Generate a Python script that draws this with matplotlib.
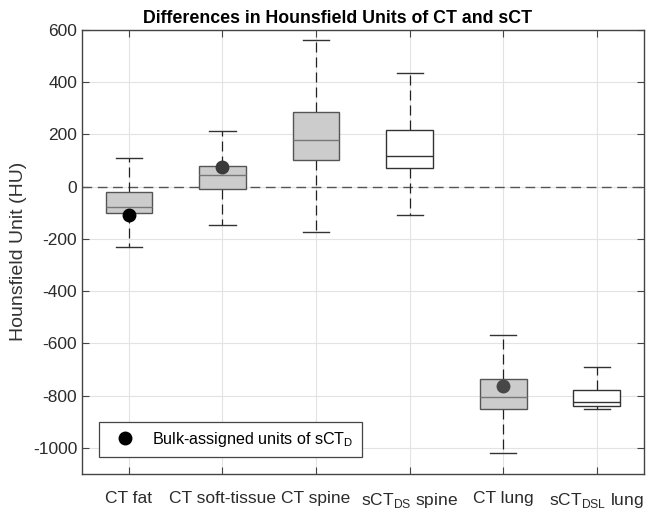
import numpy as np
import matplotlib
matplotlib.use("Agg")
from matplotlib import pyplot as plt

plt.rcParams['font.family'] = ['Liberation Sans', 'DejaVu Sans']
plt.rcParams['axes.unicode_minus'] = False
plt.rcParams['mathtext.fontset'] = 'custom'
plt.rcParams['mathtext.rm'] = 'Liberation Sans'

# categories and box statistics (HU)
labels = ['CT fat', 'CT soft-tissue', 'CT spine', r'sCT$_\mathrm{DS}$ spine',
          'CT lung', r'sCT$_\mathrm{DSL}$ lung']
whislo = [-230, -146, -174, -110, -1019, -850]
q1 = [-102, -10, 102, 70, -850, -841]
med = [-77, 46, 178, 116, -806, -826]
q3 = [-19, 79, 287, 216, -737, -780]
whishi = [109, 213, 562, 433, -568, -691]
filled = [True, True, True, False, True, False]

# bulk-assigned units of sCT_D
bulk_pos = [1, 2, 5]
bulk_val = [-108, 73, -765]
bulk_col = ['#000000', '#3a3a3a', '#474747']

stats = []
for i in range(len(labels)):
    stats.append(dict(whislo=whislo[i], q1=q1[i], med=med[i], q3=q3[i],
                      whishi=whishi[i], fliers=[]))

fig, ax = plt.subplots(figsize=(6.52, 5.14), dpi=100)
fig.subplots_adjust(left=0.126, right=0.987, top=0.942, bottom=0.078)

ax.axhline(0, color='#555555', lw=1.0, ls=(0, (7, 4)), zorder=1)

bp = ax.bxp(stats, positions=np.arange(1, 7), widths=0.5, capwidths=0.28,
            patch_artist=True, showfliers=False)
for i, box in enumerate(bp['boxes']):
    if filled[i]:
        box.set_facecolor('#cccccc')
        box.set_edgecolor('#555555')
        bp['medians'][i].set_color('#777777')
    else:
        box.set_facecolor('white')
        box.set_edgecolor('#333333')
        bp['medians'][i].set_color('#333333')
    box.set_linewidth(1.0)
    box.set_zorder(3)
    bp['medians'][i].set_linewidth(1.0)
    bp['medians'][i].set_zorder(4)
for w in bp['whiskers']:
    w.set_color('#222222')
    w.set_linestyle((0, (8, 4)))
    w.set_linewidth(0.9)
    w.set_zorder(2)
for c in bp['caps']:
    c.set_color('#333333')
    c.set_linewidth(1.0)

for p, v, c in zip(bulk_pos, bulk_val, bulk_col):
    ax.plot(p, v, 'o', color=c, ms=9, zorder=5)
ax.plot([], [], 'o', color='black', ms=9, label=r'Bulk-assigned units of sCT$_\mathrm{D}$')

ax.set_xlim(0.5, 6.5)
ax.set_ylim(-1100, 600)
ax.set_yticks(np.arange(-1000, 601, 200))
ax.set_xticks(np.arange(1, 7))
ax.set_xticklabels(labels, fontsize=12.5, color='#2b2b2b')
ax.tick_params(axis='y', labelsize=12.5, labelcolor='#2b2b2b')
ax.tick_params(direction='in', top=True, right=True, length=5, color='#444444')
ax.tick_params(axis='x', pad=12)
ax.grid(True, color='#e3e3e3', lw=0.8)
ax.set_axisbelow(True)
for s in ax.spines.values():
    s.set_color('#444444')
    s.set_linewidth(1.0)

ax.set_ylabel('Hounsfield Unit (HU)', fontsize=14, color='#333333')
ax.set_title('Differences in Hounsfield Units of CT and sCT', fontsize=12.8,
             fontweight='bold', pad=5, x=0.455)

leg = ax.legend(loc='lower left', bbox_to_anchor=(0.03, 0.038), fontsize=11.6,
                fancybox=False, framealpha=1, edgecolor='#444444',
                handletextpad=0.6, borderpad=0.5, borderaxespad=0,
                handlelength=2.2)
leg.get_frame().set_linewidth(0.9)

fig.savefig('out.png', dpi=100)
